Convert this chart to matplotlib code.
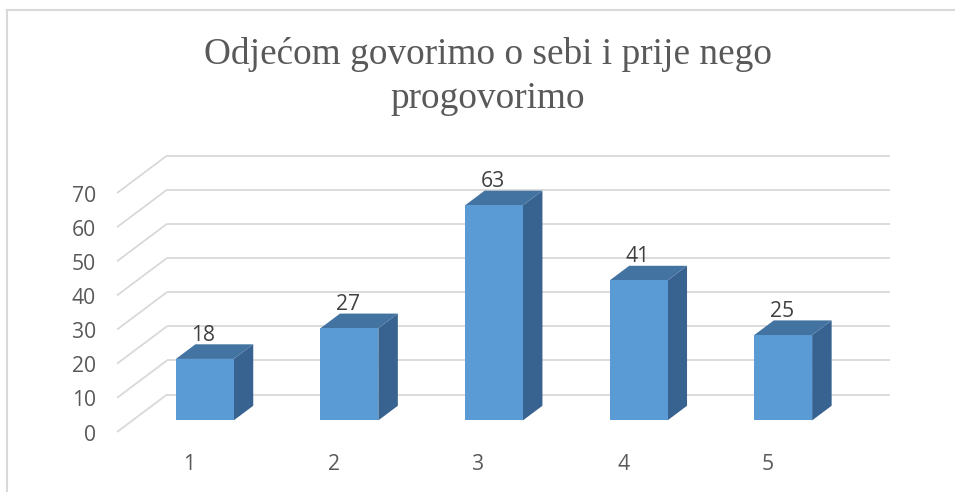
import matplotlib.pyplot as plt
from matplotlib.patches import Polygon
import numpy as np

# data
categories = ["1", "2", "3", "4", "5"]
values = [18, 27, 63, 41, 25]
yticks = [0, 10, 20, 30, 40, 50, 60, 70]

# pseudo-3D projection (data units): full depth shift
DX, DY = 0.346, 10.98
D_FRONT, D_BACK = 0.31, 0.70
BAR_W = 0.40

front_col = "#5b9bd5"
top_col = "#4373a1"
side_col = "#386390"
grid_col = "#d9d9d9"
text_col = "#595959"
lab_fs = 15.2

fig = plt.figure(figsize=(9.55, 4.92), dpi=100)
ax = fig.add_axes([0, 0, 1, 1])
ax.set_xlim(0.5 - 117 / 144.6, 0.5 + 838 / 144.6)
ax.set_ylim(-60 / 3.414, 432 / 3.414)
ax.axis("off")

# chart border (top and left visible)
fig.add_artist(plt.Line2D([7.3 / 955, 7.3 / 955], [0, 1 - 10 / 492],
                          color=grid_col, lw=1.5))
fig.add_artist(plt.Line2D([7.3 / 955, 1], [1 - 10 / 492, 1 - 10 / 492],
                          color=grid_col, lw=1.5))

n = len(categories)
x_left, x_right = 0.5, n + 0.5

# wall gridlines: left wall diagonals + back wall horizontals
for v in yticks:
    ax.plot([x_left, x_left + DX], [v, v + DY], color=grid_col, lw=1.3,
            zorder=1, solid_capstyle="butt")
    ax.plot([x_left + DX, x_right + DX], [v + DY, v + DY], color=grid_col,
            lw=1.3, zorder=1, solid_capstyle="butt")
    ax.text(0.355, v - 2.5, str(v), ha="right", va="baseline",
            fontsize=lab_fs, family="Open Sans", color=text_col)

# bars
for i, v in enumerate(values):
    c = i + 1
    x0, x1 = c - BAR_W / 2, c + BAR_W / 2
    fx, fy = D_FRONT * DX, D_FRONT * DY
    bx, by = D_BACK * DX, D_BACK * DY
    front = [(x0 + fx, fy), (x1 + fx, fy), (x1 + fx, v + fy), (x0 + fx, v + fy)]
    top = [(x0 + fx, v + fy), (x1 + fx, v + fy), (x1 + bx, v + by), (x0 + bx, v + by)]
    side = [(x1 + fx, fy), (x1 + bx, by), (x1 + bx, v + by), (x1 + fx, v + fy)]
    ax.add_patch(Polygon(side, closed=True, fc=side_col, ec="none", zorder=3))
    ax.add_patch(Polygon(top, closed=True, fc=top_col, ec="none", zorder=3))
    ax.add_patch(Polygon(front, closed=True, fc=front_col, ec="none", zorder=4))
    ax.text(c + fx - 0.01, v + by + 1.0, str(v), ha="center", va="baseline",
            fontsize=lab_fs, family="Open Sans", color="#404040", zorder=5)
    ax.text(c, -11.13, categories[i], ha="center", va="baseline",
            fontsize=lab_fs, family="Open Sans", color=text_col)

fig.text(487.5 / 955, 1 - 64.3 / 492, "Odjećom govorimo o sebi i prije nego",
         ha="center", va="baseline", fontsize=26.8,
         family="Liberation Serif", color=text_col)
fig.text(487.5 / 955, 1 - 107.5 / 492, "progovorimo",
         ha="center", va="baseline", fontsize=26.8,
         family="Liberation Serif", color=text_col)

fig.savefig("out.png", dpi=100)
